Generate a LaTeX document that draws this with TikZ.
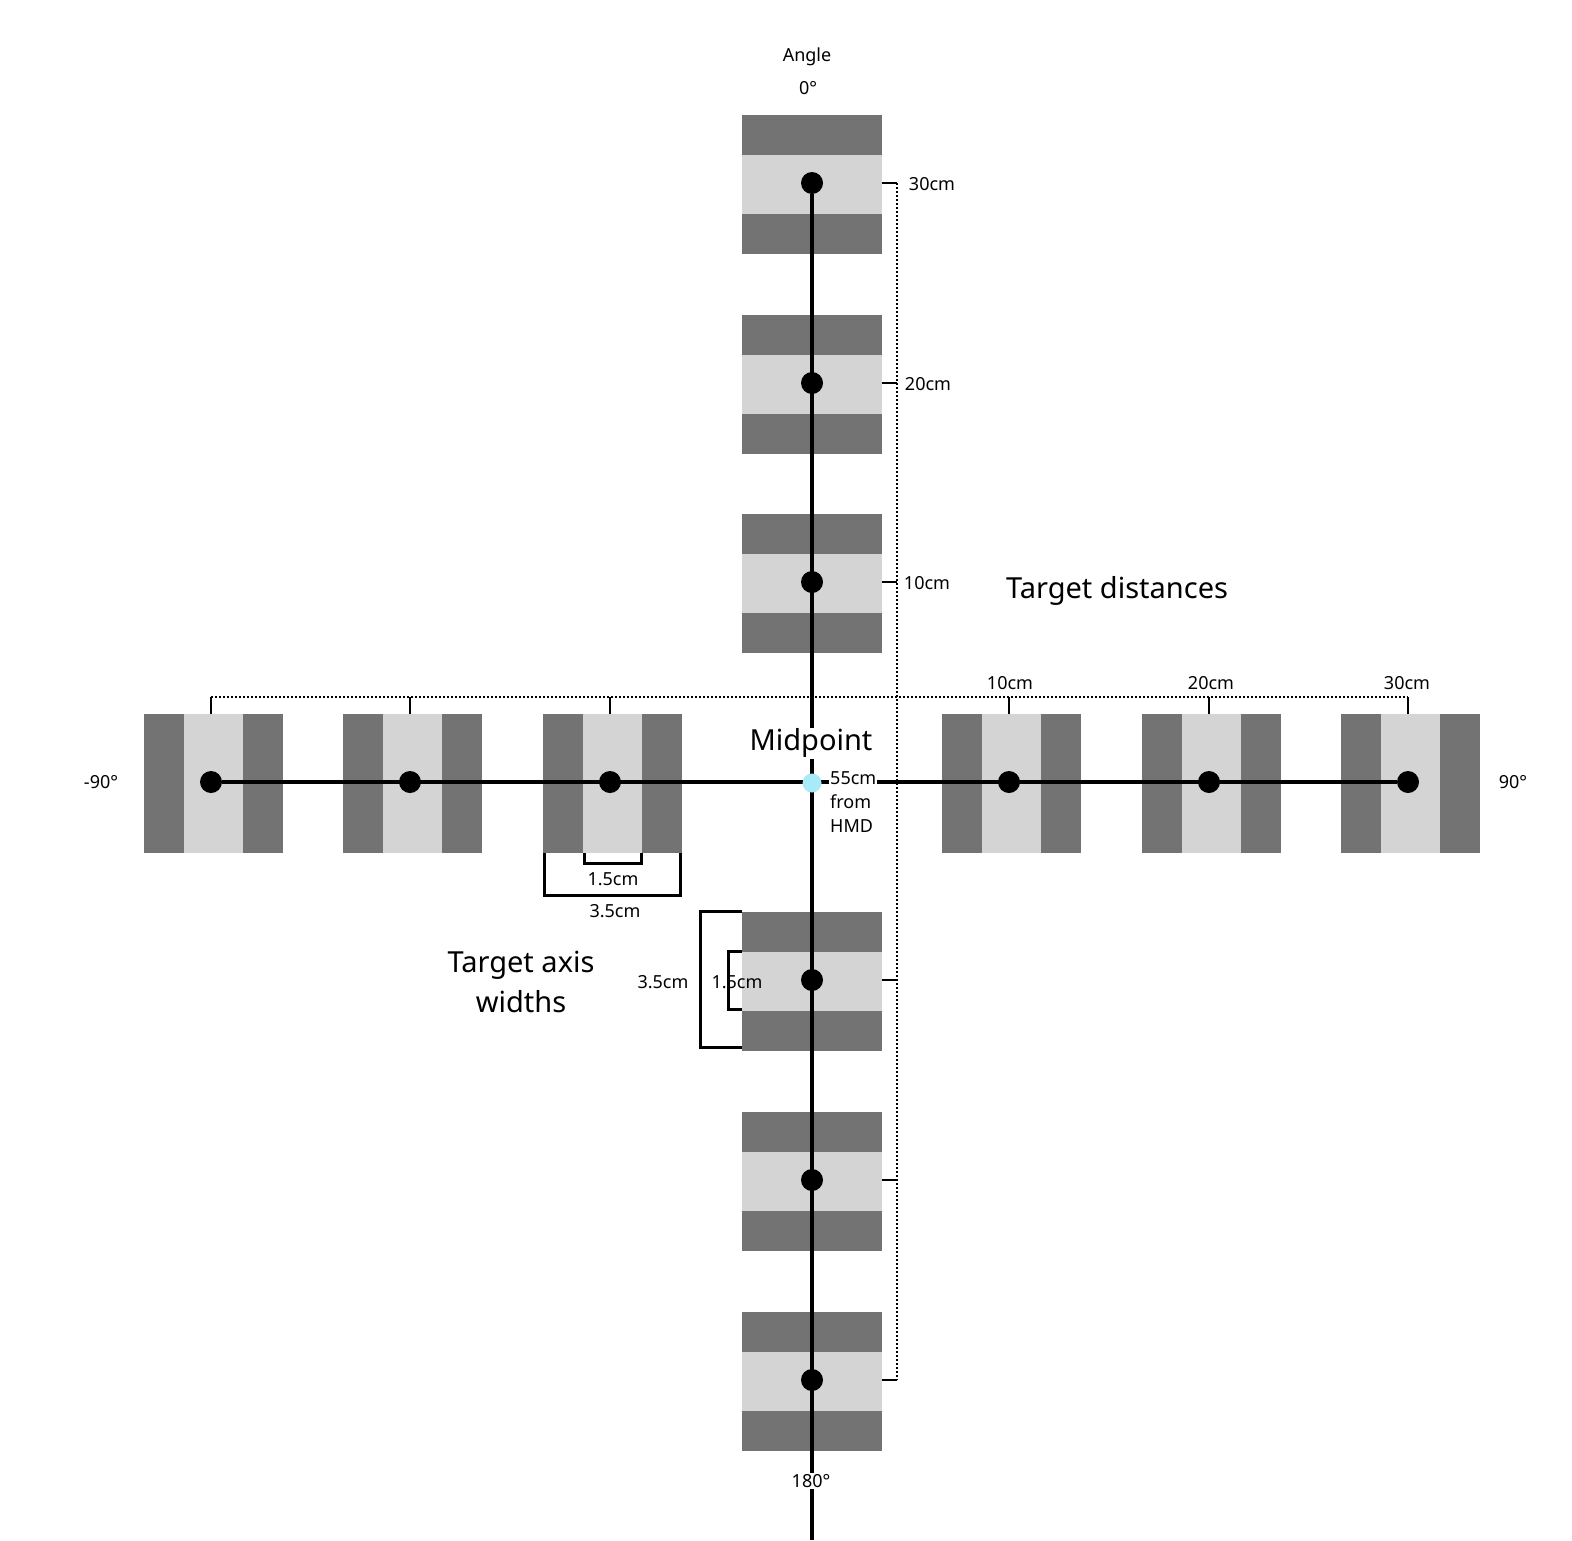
\documentclass[tikz,border=0pt]{standalone}
\usepackage{fontspec}
\setmainfont{Noto Sans}
\begin{document}
\begin{tikzpicture}[x=1pt,y=-1pt,
  lbl/.style={font=\fontsize{18}{21}\selectfont,inner sep=1pt},
  head/.style={font=\fontsize{29}{36}\selectfont\bfseries,inner sep=1pt,align=center},
  dot/.style={circle,fill=black,minimum size=22pt,inner sep=0pt},
  ax/.style={line width=3.5pt},
  br/.style={line width=3pt},
  dt/.style={line width=1.2pt,dash pattern=on 2pt off 2pt},
  tk/.style={line width=1.4pt}]
\useasboundingbox (0,0) rectangle (1572,1540);
\definecolor{dk}{HTML}{737373}\definecolor{lt}{HTML}{D4D4D4}\definecolor{mid}{HTML}{A8EAF8}
% vertical targets
\foreach \c/\n in {183/t3,383/t2,582/t1,980/b1,1180/b2,1380/b3}{
  \fill[dk] (742,\c-68) rectangle (882,\c+71);
  \fill[lt] (742,\c-28) rectangle (882,\c+31);
  \node[dot] (\n) at (812,\c) {};
  \coordinate (\n r) at (882,\c);
  \coordinate (\n d) at (897,\c);
}
% horizontal targets
\foreach \c/\n in {211/l3,410/l2,610/l1,1009/r1,1209/r2,1408/r3}{
  \fill[dk] (\c-67,714) rectangle (\c+72,853);
  \fill[lt] (\c-27,714) rectangle (\c+32,853);
  \node[dot] (\n) at (\c,782) {};
  \coordinate (\n u) at (\c,714);
  \coordinate (\n d) at (\c,697);
}
\coordinate (vend) at (812,1540);
\draw[ax] (t3) -- (vend);
\draw[ax] (l3) -- (r3);
\node[head,fill=white] (mp) at (811,743) {Midpoint};
\node[circle,fill=mid,minimum size=19pt,inner sep=0pt] (mid) at (812,783) {};
\node[lbl,fill=white,align=left,anchor=north west,inner sep=1pt,font=\fontsize{18}{24}\selectfont] (hmd) at (829,770) {55cm\\from\\HMD};
% dotted distance guides
\draw[dt] (t3d) -- (b3d);
\foreach \n in {t3,t2,t1,b1,b2,b3} \draw[tk] (\n r) -- (\n d);
\draw[dt] (l3d) -- (r3d);
\foreach \n in {l3,l2,l1,r1,r2,r3} \draw[tk] (\n u) -- (\n d);
\node[lbl] (d30) at (932,184) {30cm};
\node[lbl] (d20) at (928,384) {20cm};
\node[lbl] (d10) at (927,583) {10cm};
\node[lbl] (h10) at (1010,683) {10cm};
\node[lbl] (h20) at (1211,683) {20cm};
\node[lbl] (h30) at (1407,683) {30cm};
% brackets
\draw[br] (584,853) |- (641,863) -- (641,853);
\draw[br] (544,853) |- (680,895) -- (680,853);
\node[lbl] (w15) at (613,879) {1.5cm};
\node[lbl] (w35) at (615,911) {3.5cm};
\draw[br] (742,911) -| (700,1047) -- (742,1047);
\draw[br] (742,951) -| (728,1009) -- (742,1009);
\node[lbl] (v35) at (663,982) {3.5cm};
\node[lbl] (v15) at (737,982) {1.5cm};
% labels
\node[lbl,font=\fontsize{18}{21}\selectfont\bfseries] (ang) at (807,57) {Angle};
\node[lbl] (a0) at (808,88) {0°};
\node[lbl] (a90m) at (101,782) {-90°};
\node[lbl] (a90) at (1513,782) {90°};
\node[lbl,fill=white] (a180) at (811,1481) {180°};
\node[head] (td) at (1117,591) {Target distances};
\node[head,font=\fontsize{29}{40}\selectfont\bfseries] (tw) at (521,982) {Target axis\\widths};
\end{tikzpicture}
\end{document}
